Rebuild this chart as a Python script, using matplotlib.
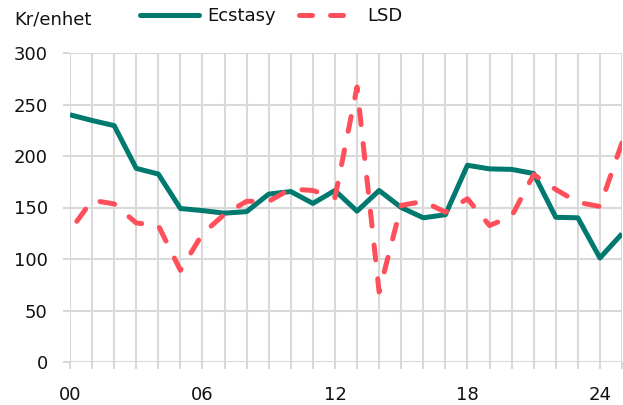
import matplotlib
matplotlib.use("Agg")
import numpy as np
import matplotlib.pyplot as plt
from matplotlib.lines import Line2D
from matplotlib.ticker import FixedLocator, MultipleLocator

years = list(range(0, 26))
ecstasy = [240, 234.5, 229.5, 188, 182.5, 149, 147, 144.5, 146, 163, 165.5, 154, 166.5,
           146.5, 166.5, 150, 140, 143, 191, 187.5, 187, 183, 140.5, 140, 101, 124.5]
lsd = [127.5, 157, 153.5, 135, 132.5, 89, 124.5, 143.5, 156, 156, 168, 166.5, 159.5,
       267, 68, 152, 156, 145.5, 158.5, 132.5, 141.5, 182, 167.5, 155, 151, 213]
tick_pos = [0, 6, 12, 18, 24]
tick_labels = ["00", "06", "12", "18", "24"]
y_ticks = [0, 50, 100, 150, 200, 250, 300]

plt.rcParams['font.family'] = ['DejaVu Sans']
DPI = 100
fig = plt.figure(figsize=(6.23, 4.05), dpi=DPI)
ax = fig.add_axes([70/623, 43/405, 552/623, 309/405])
ax.set_xlim(0, 25)
ax.set_ylim(0, 300)

grid_c = '#d9d9d9'
teal = '#00796F'
red = '#FF4F5A'
LW = 3.6
ON, OFF = 3.0, 3.8
# choose dash phase so the LSD spike vertex sits on a dash
pts = ax.transData.transform(np.column_stack([years, lsd]))
seg = np.hypot(*np.diff(pts, axis=0).T) * 72 / DPI
cum = np.concatenate([[0], np.cumsum(seg)])
period = (ON + OFF) * LW
target = 8.0  # points into the "on" part
offset_pts = (target - cum[13]) % period
ls = (offset_pts / LW, (ON, OFF))

ax.plot(years, ecstasy, color=teal, lw=LW, solid_capstyle='butt', zorder=3)
ax.plot(years, lsd, color=red, lw=LW, linestyle=ls, dash_capstyle='round', zorder=3)

ax.xaxis.set_major_locator(FixedLocator(tick_pos))
ax.set_xticklabels(tick_labels)
ax.xaxis.set_minor_locator(MultipleLocator(1))
ax.set_yticks(y_ticks)
ax.grid(True, which='both', axis='x', color=grid_c, lw=1.5, zorder=0)
ax.grid(True, which='major', axis='y', color=grid_c, lw=1.5, zorder=0)
ax.tick_params(axis='both', which='both', length=5, width=1.5, color=grid_c,
               labelsize=13, labelcolor='#111111')
ax.tick_params(axis='x', which='major', pad=12)
ax.tick_params(axis='y', which='major', pad=11)
for s in ax.spines.values():
    s.set_visible(False)
ax.set_axisbelow(True)

fig.text(14/623, 1 - 20/405, 'Kr/enhet', fontsize=13, va='center', ha='left', color='#111111')
handles = [
    Line2D([], [], color=teal, lw=LW, solid_capstyle='round'),
    Line2D([], [], color=red, lw=LW, linestyle=(0, (2.6, 3.6)), dash_capstyle='round'),
]
leg = fig.legend(handles, ['Ecstasy', 'LSD'], loc='center', bbox_to_anchor=(271/623, 1 - 16/405),
                 ncol=2, frameon=False, fontsize=13, handlelength=3.3, columnspacing=1.3,
                 handletextpad=0.45)
for t in leg.get_texts():
    t.set_color('#111111')

fig.savefig('out.png', dpi=DPI)
